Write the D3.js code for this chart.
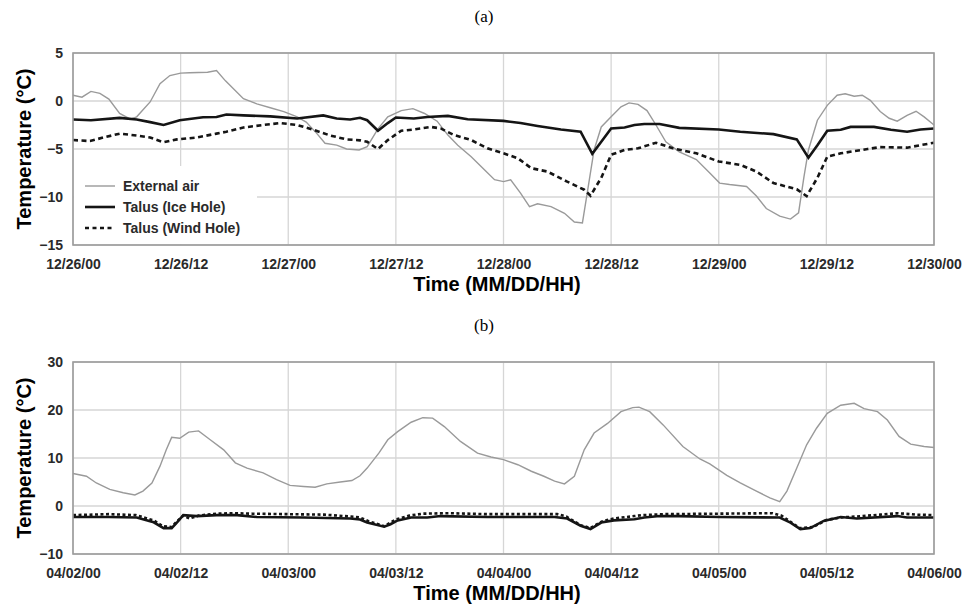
<!DOCTYPE html>
<html>
<head>
<meta charset="utf-8">
<script src="https://cdn.jsdelivr.net/npm/d3@7"></script>
<style>
  body { margin: 0; background: #fff; }
  text { font-family: "Liberation Sans", Arial, sans-serif; }
</style>
</head>
<body>
<div id="chart"></div>
<script>
// ---- data: [hour since start, temperature] ----
var ticksA = ["12/26/00","12/26/12","12/27/00","12/27/12","12/28/00","12/28/12","12/29/00","12/29/12","12/30/00"];
var ticksB = ["04/02/00","04/02/12","04/03/00","04/03/12","04/04/00","04/04/12","04/05/00","04/05/12","04/06/00"];
var yTicksA = [-15, -10, -5, 0, 5];
var yTicksB = [-10, 0, 10, 20, 30];

var airA = [[0,0.6],[1,0.4],[2,1.0],[3,0.8],[4,0.2],[5.2,-1.3],[6.4,-1.9],[7.1,-1.65],[8.6,-0.1],[9.7,1.8],
  [10.8,2.65],[12,2.9],[13,2.95],[15,3.0],[16,3.17],[17,2.1],[19,0.24],[20.5,-0.3],[22,-0.7],[23.5,-1.1],
  [25,-1.65],[26,-2.2],[27.2,-3.4],[28.1,-4.4],[29.4,-4.6],[30.5,-5.0],[31.9,-5.1],[32.8,-4.75],[34,-2.9],[35.1,-1.65],
  [36.6,-1.0],[37.9,-0.8],[39.2,-1.3],[40.6,-2.1],[41.8,-3.55],[42.9,-4.6],[44.4,-5.8],[45.9,-7.2],[47,-8.2],[48,-8.4],
  [48.8,-8.2],[49.9,-9.6],[50.9,-11.0],[51.8,-10.7],[53.3,-11.0],[54.8,-11.7],[55.9,-12.6],[56.8,-12.7],[57.4,-9.2],[58.1,-5.1],
  [58.9,-2.7],[60,-1.65],[61.1,-0.6],[62,-0.2],[63,-0.35],[64,-1.0],[65,-2.5],[66.1,-4.25],[67.6,-5.3],[69.5,-6.1],
  [71,-7.5],[72.1,-8.55],[73.2,-8.7],[75.1,-8.9],[76.2,-9.9],[77.3,-11.2],[78.8,-12.0],[80,-12.3],[80.9,-11.65],[81.5,-7.9],
  [82,-5.1],[83,-2.0],[84.1,-0.45],[85.2,0.6],[86.1,0.76],[87.1,0.5],[88,0.6],[88.9,0.07],[90,-1.1],[91,-1.8],
  [91.9,-2.1],[93,-1.5],[94,-1.07],[94.9,-1.65],[96,-2.5]];

var iceA = [[0,-1.93],[2,-2.0],[5.2,-1.76],[7.1,-1.93],[8.6,-2.2],[10.1,-2.5],[11.9,-2.0],[14.5,-1.7],[16,-1.66],[17.1,-1.4],
  [19,-1.5],[22,-1.6],[25,-1.83],[27.9,-1.5],[29.4,-1.83],[30.9,-1.93],[32,-1.75],[32.8,-2.0],[34,-3.1],[35.1,-2.3],
  [36,-1.72],[38,-1.83],[39.5,-1.66],[41.8,-1.55],[44,-1.9],[48,-2.07],[49.9,-2.3],[51.8,-2.6],[54.4,-2.97],[56.6,-3.2],
  [57.9,-5.5],[58.9,-4.25],[60,-2.86],[61.5,-2.76],[62.6,-2.5],[63.7,-2.4],[65.4,-2.4],[67.6,-2.8],[72,-2.97],[74.4,-3.2],
  [78.1,-3.45],[80.7,-4.0],[82,-5.9],[83,-4.6],[84.1,-3.1],[85.6,-3.0],[86.7,-2.7],[89.3,-2.7],[91.2,-3.0],[93,-3.2],
  [94.5,-2.97],[96,-2.86]];

var windA = [[0,-4.07],[1.9,-4.17],[3.4,-3.8],[5.2,-3.4],[7.1,-3.6],[8.6,-3.8],[10.1,-4.3],[11.6,-4.0],[13.8,-3.8],[16,-3.4],
  [17.1,-3.2],[19,-2.76],[21.2,-2.5],[23.1,-2.3],[25,-2.5],[26.8,-3.0],[28.7,-3.6],[30.5,-4.0],[32,-4.1],[32.8,-4.25],
  [34,-5.0],[35.1,-4.07],[36.6,-3.1],[38,-2.97],[39.9,-2.7],[41,-2.86],[42.5,-3.55],[44.4,-4.07],[46.2,-4.93],[48,-5.45],
  [49.6,-5.97],[51.1,-7.0],[52.9,-7.35],[55.1,-8.4],[57,-9.24],[57.7,-9.86],[58.9,-8.0],[60,-5.6],[61.5,-5.1],[63,-4.93],
  [65,-4.35],[66.9,-4.93],[69.5,-5.45],[72,-6.3],[74.4,-6.65],[76.2,-7.35],[78.1,-8.55],[80.7,-9.2],[81.8,-9.9],[83,-8.0],
  [84.1,-5.8],[85.6,-5.45],[88.6,-5.0],[90,-4.8],[93,-4.86],[94.5,-4.6],[96,-4.35]];

var airB = [[0,6.76],[1.5,6.2],[2.6,4.8],[4.1,3.45],[5.6,2.76],[6.9,2.3],[7.8,3.1],[8.8,4.8],[9.7,8.3],[10.4,11.7],
  [11,14.3],[11.9,14.1],[12.9,15.4],[14,15.65],[15.3,13.8],[16.8,11.7],[18.1,9.0],[19.4,7.9],[21.2,6.9],[22.7,5.5],
  [24.2,4.3],[25.7,4.07],[27,3.9],[28.3,4.6],[29.8,5.0],[31.1,5.3],[32,6.3],[32.8,7.9],[34.1,11.0],[35.1,13.8],
  [36.2,15.5],[37.7,17.45],[39,18.4],[40.1,18.3],[41.4,16.55],[43.2,13.45],[45.1,11.0],[46.6,10.2],[48,9.66],[49.6,8.6],
  [51.1,7.24],[52.5,6.2],[53.7,5.17],[54.8,4.6],[55.9,6.2],[57,11.7],[58.1,15.2],[59.6,17.2],[61.1,19.65],[62.4,20.5],
  [63.1,20.6],[64.3,19.65],[65.8,16.9],[68,12.4],[69.9,9.8],[71,8.76],[72.9,6.4],[74.4,4.8],[76.2,3.1],[77.7,1.7],
  [78.8,0.9],[79.6,3.1],[80.7,7.9],[81.8,12.75],[82.9,16.2],[84.1,19.3],[85.6,21.0],[87.1,21.4],[88.2,20.3],[89.7,19.65],
  [90.8,17.9],[92.1,14.5],[93.4,12.9],[94.9,12.4],[96,12.2]];

var iceB = [[0,-2.3],[4,-2.3],[7.1,-2.4],[9,-3.4],[10.1,-4.6],[11,-4.6],[11.6,-3.4],[12.3,-1.9],[13.8,-2.1],[16,-1.9],
  [18.3,-1.9],[20.5,-2.3],[25.7,-2.4],[30.9,-2.6],[32,-2.8],[32.8,-3.45],[34.7,-4.3],[35.4,-3.8],[36.2,-3.0],[37.7,-2.4],
  [39.5,-2.4],[41,-2.1],[46.2,-2.3],[53.7,-2.3],[55.1,-2.6],[56.6,-4.1],[57.7,-4.8],[58.9,-3.45],[60.3,-3.0],[62.6,-2.76],
  [63.7,-2.4],[65.4,-2.1],[67.6,-2.1],[72.1,-2.3],[78.8,-2.4],[80,-3.45],[81.1,-4.8],[82.2,-4.6],[83.7,-3.1],[85.6,-2.3],
  [87.4,-2.6],[91.9,-2.1],[93,-2.4],[96,-2.4]];

var windB = [[0,-1.9],[4,-1.7],[7,-1.9],[9,-3.0],[10,-4.2],[11,-4.4],[11.6,-3.2],[12.3,-2.0],[13,-2.6],[14,-2.0],
  [16,-1.6],[18,-1.5],[20,-1.6],[24,-1.7],[28,-1.8],[31,-2.2],[32,-2.4],[33,-3.2],[34.7,-4.2],[36,-2.8],
  [37.5,-2.0],[39,-1.6],[42,-1.5],[46,-1.7],[54,-1.7],[55,-2.2],[56.6,-4.0],[57.7,-4.6],[59,-3.2],[60.3,-2.6],
  [62.6,-2.1],[63.5,-1.9],[66,-1.7],[72,-1.6],[78,-1.5],[79,-2.0],[80,-3.3],[81,-4.6],[82.5,-4.4],[84,-2.9],
  [85.6,-2.4],[88,-2.1],[90,-1.8],[92,-1.5],[94,-1.8],[96,-1.9]];

var legendNames = ["External air", "Talus (Ice Hole)", "Talus (Wind Hole)"];

// ---- layout ----
var width = 963, height = 605;
var left = 73, right = 934;

var svg = d3.select("#chart").append("svg")
    .attr("width", width)
    .attr("height", height);

function drawPanel(p) {
    var x = d3.scaleLinear().domain([0, 96]).range([left, right]);
    var y = d3.scaleLinear().domain(p.yDomain).range([p.bottom, p.top]);
    var g = svg.append("g");

    g.append("text")
        .attr("x", 484).attr("y", p.labelY)
        .attr("text-anchor", "middle")
        .style("font-family", "'Liberation Serif', 'Times New Roman', serif")
        .style("font-size", "17px")
        .text(p.label);

    // grid
    g.append("g").selectAll("line").data(p.yTicks).enter().append("line")
        .attr("x1", left).attr("x2", right)
        .attr("y1", function (d) { return y(d); })
        .attr("y2", function (d) { return y(d); })
        .attr("stroke", "#d6d6d6").attr("stroke-width", 1.3);
    g.append("g").selectAll("line").data(d3.range(0, 97, 12)).enter().append("line")
        .attr("x1", function (d) { return x(d); })
        .attr("x2", function (d) { return x(d); })
        .attr("y1", p.top).attr("y2", p.bottom)
        .attr("stroke", "#d6d6d6").attr("stroke-width", 1.3);

    if (p.legend) {
        g.append("rect")
            .attr("x", left + 1).attr("y", 166)
            .attr("width", 183).attr("height", p.bottom - 167)
            .attr("fill", "#fff");
    }

    var line = d3.line()
        .x(function (d) { return x(d[0]); })
        .y(function (d) { return y(d[1]); });

    g.append("path").datum(p.air).attr("d", line)
        .attr("fill", "none").attr("stroke", "#9a9a9a").attr("stroke-width", 1.4);
    g.append("path").datum(p.wind).attr("d", line)
        .attr("fill", "none").attr("stroke", "#151515").attr("stroke-width", 2.6)
        .attr("stroke-dasharray", p.dash);
    g.append("path").datum(p.ice).attr("d", line)
        .attr("fill", "none").attr("stroke", "#151515").attr("stroke-width", 2.6);

    // frame
    g.append("rect")
        .attr("x", left).attr("y", p.top)
        .attr("width", right - left).attr("height", p.bottom - p.top)
        .attr("fill", "none").attr("stroke", "#9c9c9c").attr("stroke-width", 1.6);

    // axes
    var xAxis = g.append("g")
        .attr("transform", "translate(0," + p.bottom + ")")
        .call(d3.axisBottom(x).tickValues(d3.range(0, 97, 12))
            .tickFormat(function (d, i) { return p.xLabels[i]; })
            .tickSize(0).tickPadding(14));
    var yAxis = g.append("g")
        .attr("transform", "translate(" + left + ",0)")
        .call(d3.axisLeft(y).tickValues(p.yTicks).tickSize(0).tickPadding(10));
    [xAxis, yAxis].forEach(function (a) {
        a.select(".domain").remove();
        a.selectAll("text")
            .style("font-family", "'Liberation Sans', Arial, sans-serif")
            .style("font-size", "14px")
            .style("font-weight", "bold")
            .attr("fill", "#2a2a2a");
    });

    g.append("text")
        .attr("x", 497).attr("y", p.bottom + 46)
        .attr("text-anchor", "middle")
        .style("font-size", "20px").style("font-weight", "bold")
        .text("Time (MM/DD/HH)");

    g.append("text")
        .attr("transform", "translate(31," + ((p.top + p.bottom) / 2) + ")rotate(-90)")
        .attr("text-anchor", "middle")
        .style("font-size", "20px").style("font-weight", "bold")
        .text("Temperature (\u00B0C)");

    if (p.legend) {
        var rows = g.append("g").selectAll("g").data(legendNames).enter().append("g")
            .attr("transform", function (d, i) { return "translate(85," + (186 + i * 21) + ")"; });
        rows.append("line")
            .attr("x1", 0).attr("x2", 30).attr("y1", 0).attr("y2", 0)
            .attr("stroke", function (d, i) { return i == 0 ? "#9a9a9a" : "#151515"; })
            .attr("stroke-width", function (d, i) { return i == 0 ? 1.4 : 2.6; })
            .attr("stroke-dasharray", function (d, i) { return i == 2 ? "4,3.5" : null; });
        rows.append("text")
            .attr("x", 38).attr("dy", "0.36em")
            .style("font-size", "14px").style("font-weight", "bold")
            .attr("fill", "#2a2a2a")
            .text(function (d) { return d; });
    }
}

drawPanel({label: "(a)", labelY: 22, top: 53, bottom: 245, yDomain: [-15, 5], yTicks: yTicksA,
    xLabels: ticksA, air: airA, ice: iceA, wind: windA, dash: "5,3.5", legend: true});
drawPanel({label: "(b)", labelY: 331, top: 362, bottom: 554, yDomain: [-10, 30], yTicks: yTicksB,
    xLabels: ticksB, air: airB, ice: iceB, wind: windB, dash: "3,2.5", legend: false});
</script>
</body>
</html>
